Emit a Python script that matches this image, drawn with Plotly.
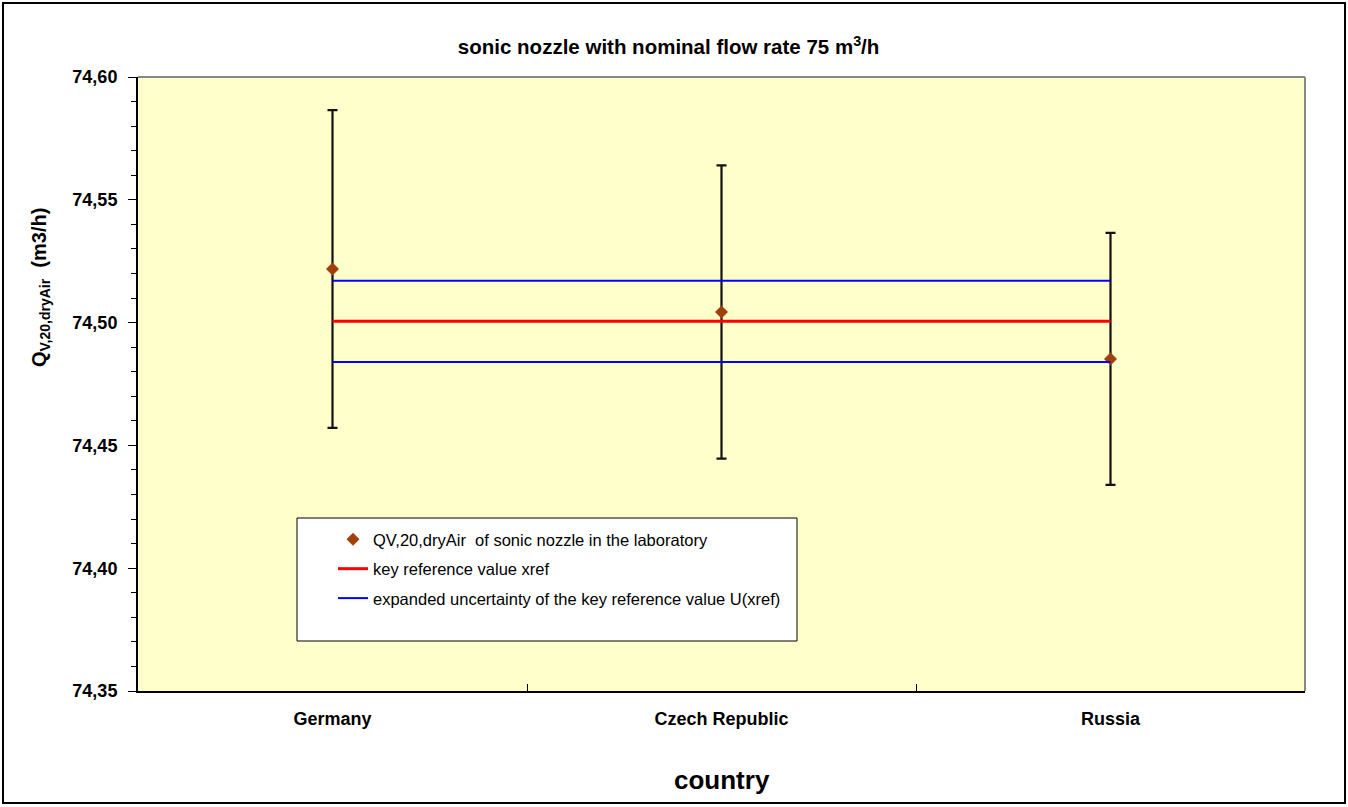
import plotly.graph_objects as go

# Laboratory results for the 75 m3/h sonic nozzle
countries = ["Germany", "Czech Republic", "Russia"]
q_lab = [74.5218, 74.5043, 74.4852]
u_lab = [0.0647, 0.0597, 0.0513]

# Key comparison reference value and its expanded uncertainty
x_ref = 74.5005
u_ref = 0.0165

y_ticks = [74.35, 74.40, 74.45, 74.50, 74.55, 74.60]

FONT = "Liberation Sans, Arial, sans-serif"

# plot area in pixels: left 138, right 1305, top 77, bottom 691
PW, PH = 1167, 614


def px_x(px):
    return (px - 138) / PW


def px_y(py):
    return (691 - py) / PH


fig = go.Figure()

fig.add_trace(go.Scatter(
    x=countries, y=q_lab, mode="markers",
    name="QV,20,dryAir  of sonic nozzle in the laboratory",
    legendgroup="a",
    marker=dict(symbol="diamond", size=10, color="#A0410D"),
    error_y=dict(type="data", array=u_lab, visible=True,
                 color="#111111", thickness=2.2, width=5),
))

fig.add_trace(go.Scatter(
    x=countries, y=[x_ref] * len(countries), mode="lines",
    name="key reference value xref", legendgroup="b",
    line=dict(color="#FF0000", width=3),
))

fig.add_trace(go.Scatter(
    x=countries, y=[x_ref + u_ref] * len(countries), mode="lines",
    name="expanded uncertainty of the key reference value U(xref)",
    legendgroup="c",
    line=dict(color="#0000FF", width=2),
))
fig.add_trace(go.Scatter(
    x=countries, y=[x_ref - u_ref] * len(countries), mode="lines",
    showlegend=False, legendgroup="c",
    line=dict(color="#0000FF", width=2),
))

shapes = [
    # outer frame of the whole figure
    dict(type="rect", xref="paper", yref="paper",
         x0=px_x(3), x1=px_x(1345), y0=px_y(803), y1=px_y(3),
         line=dict(color="black", width=2), layer="below"),
    # grey top and right edges of the plot area
    dict(type="line", xref="paper", yref="paper", x0=0, x1=1, y0=1, y1=1,
         line=dict(color="#888888", width=2)),
    dict(type="line", xref="paper", yref="paper", x0=1, x1=1, y0=0, y1=1,
         line=dict(color="#888888", width=2)),
    # legend box
    dict(type="rect", xref="paper", yref="paper",
         x0=px_x(297), x1=px_x(797), y0=px_y(641), y1=px_y(518),
         fillcolor="white", line=dict(color="black", width=1), layer="above"),
]

fig.update_layout(
    width=1348, height=807,
    margin=dict(l=138, r=43, t=77, b=116),
    paper_bgcolor="white",
    plot_bgcolor="#FFFFCC",
    separators=",.",
    font=dict(family=FONT, color="black"),
    title=dict(
        text="sonic nozzle with nominal flow rate 75 m<sup>3</sup>/h",
        x=0.496, xref="container", xanchor="center",
        y=1 - 47 / 807, yref="container", yanchor="middle",
        font=dict(size=20.5, family=FONT, weight="bold", color="black"),
    ),
    shapes=shapes,
    showlegend=True,
    legend=dict(
        x=px_x(333), y=px_y(522), xanchor="left", yanchor="top",
        bgcolor="rgba(0,0,0,0)", borderwidth=0,
        font=dict(size=16.5, family=FONT, color="black"),
        tracegroupgap=5,
    ),
    annotations=[
        dict(text="country", xref="paper", yref="paper",
             x=0.5, y=px_y(780), xanchor="center", yanchor="middle",
             showarrow=False,
             font=dict(size=26, family=FONT, weight="bold", color="black")),
        dict(text="Q<sub>V,20,dryAir</sub>  (m3/h)", xref="paper", yref="paper",
             x=px_x(40), y=px_y(288),
             xanchor="center", yanchor="middle", textangle=-90,
             showarrow=False,
             font=dict(size=20, family=FONT, weight="bold", color="black")),
    ],
)

fig.update_xaxes(
    type="category", range=[-0.5, 2.5],
    tickson="boundaries", ticks="inside", ticklen=7, tickcolor="black",
    showline=True, linecolor="black", linewidth=2,
    showgrid=False, zeroline=False,
    tickfont=dict(size=18, family=FONT, weight="bold", color="black"),
    ticklabelstandoff=10,
)

fig.update_yaxes(
    range=[74.35, 74.60], tickvals=y_ticks, tickformat=".2f",
    ticks="outside", ticklen=8, tickcolor="black", tickwidth=1,
    minor=dict(dtick=0.01, ticks="outside", ticklen=5, tickcolor="black"),
    showline=True, linecolor="black", linewidth=2,
    showgrid=False, zeroline=False,
    tickfont=dict(size=18, family=FONT, weight="bold", color="black"),
    ticklabelstandoff=7,
)

fig.write_html("out.html")
